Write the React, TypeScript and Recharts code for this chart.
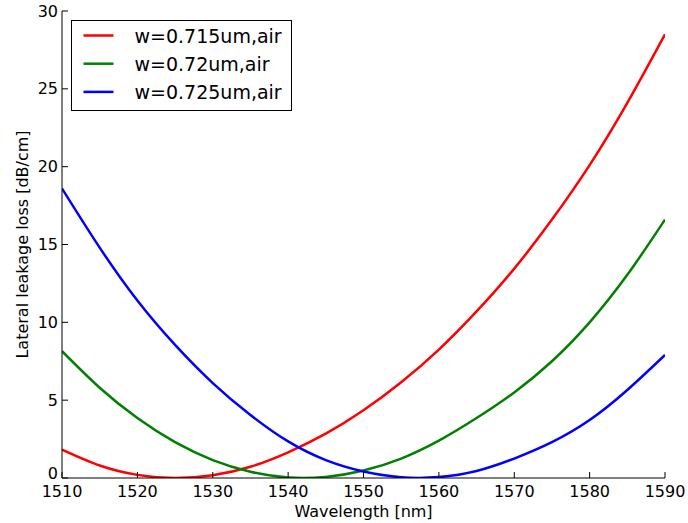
import React from 'react';
import { LineChart, Line, XAxis, YAxis, Legend } from 'recharts';

// wavelength samples [nm]
const wavelengths = [
  1510, 1515, 1520, 1525, 1530, 1535, 1540, 1545, 1550,
  1555, 1560, 1565, 1570, 1575, 1580, 1585, 1590,
];

// lateral leakage loss [dB/cm]
const loss715 = [
  1.82, 0.8, 0.2, 0.0, 0.18, 0.72, 1.65, 2.85, 4.35,
  6.15, 8.25, 10.7, 13.45, 16.6, 20.1, 24.1, 28.5,
];
const loss720 = [
  8.15, 5.8, 3.85, 2.3, 1.15, 0.4, 0.03, 0.07, 0.48,
  1.25, 2.4, 3.85, 5.5, 7.5, 10.0, 13.05, 16.6,
];
const loss725 = [
  18.6, 14.8, 11.4, 8.55, 6.1, 4.05, 2.35, 1.15, 0.42,
  0.05, 0.06, 0.45, 1.25, 2.3, 3.72, 5.65, 7.9,
];

const seriesNames = ['w=0.715um,air', 'w=0.72um,air', 'w=0.725um,air'];
const xTicks = [1510, 1520, 1530, 1540, 1550, 1560, 1570, 1580, 1590];
const yTicks = [0, 5, 10, 15, 20, 25, 30];

const FONT = '"DejaVu Sans", "Bitstream Vera Sans", sans-serif';
const COLORS = ['#ff0000', '#008000', '#0000ff'];
const TICK_LEN = 6;

const data = wavelengths.map((w, i) => ({
  w,
  a: loss715[i],
  b: loss720[i],
  c: loss725[i],
}));

// matplotlib-style ticks: pointing into the plot
const BottomTick = ({ x, y, payload }: any) => (
  <g>
    <line x1={x} x2={x} y1={y} y2={y - TICK_LEN} stroke="#000" />
    <text x={x} y={y + 19} textAnchor="middle" fontSize={16} fontFamily={FONT} fill="#000">
      {payload.value}
    </text>
  </g>
);

const TopTick = ({ x, y }: any) => (
  <line x1={x} x2={x} y1={y} y2={y + TICK_LEN} stroke="#000" />
);

const LeftTick = ({ x, y, payload }: any) => (
  <g>
    <line x1={x} x2={x + TICK_LEN} y1={y} y2={y} stroke="#000" />
    <text
      x={x - 4}
      y={payload.value === 0 ? y + 1 : y + 5.5}
      textAnchor="end"
      fontSize={16}
      fontFamily={FONT}
      fill="#000"
    >
      {payload.value}
    </text>
  </g>
);

const RightTick = ({ x, y }: any) => (
  <line x1={x} x2={x - TICK_LEN} y1={y} y2={y} stroke="#000" />
);

const XTitle = ({ viewBox }: any) => (
  <text
    x={viewBox.x + viewBox.width / 2}
    y={viewBox.y + 39}
    textAnchor="middle"
    fontSize={16}
    fontFamily={FONT}
    fill="#000"
  >
    Wavelength [nm]
  </text>
);

const YTitle = ({ viewBox }: any) => {
  const cx = viewBox.x + 28;
  const cy = viewBox.y + viewBox.height / 2;
  return (
    <text
      x={cx}
      y={cy}
      transform={`rotate(-90 ${cx} ${cy})`}
      textAnchor="middle"
      fontSize={16}
      fontFamily={FONT}
      fill="#000"
    >
      Lateral leakage loss [dB/cm]
    </text>
  );
};

const LegendBox = ({ payload }: any) => {
  const items = [...(payload || [])].sort(
    (p: any, q: any) => seriesNames.indexOf(p.value) - seriesNames.indexOf(q.value)
  );
  return (
    <svg width={222} height={92} style={{ display: 'block' }}>
      <rect x={0.5} y={0.5} width={220} height={90} fill="#fff" stroke="#000" />
      {items.map((p: any, i: number) => {
        const ry = 15.5 + i * 28.2;
        return (
          <g key={p.value}>
            <line x1={12.5} x2={42.5} y1={ry} y2={ry} stroke={p.color} strokeWidth={2.5} />
            <text x={63.5} y={ry + 7} fontSize={19} fontFamily={FONT} fill="#000">
              {p.value}
            </text>
          </g>
        );
      })}
    </svg>
  );
};

export default function App() {
  return (
    <div style={{ position: 'absolute', left: 0, top: 0, width: 688, height: 523, background: '#fff' }}>
      <LineChart
        width={688}
        height={523}
        data={data}
        margin={{ top: 11, right: 23, bottom: 0, left: 0 }}
      >
        <XAxis
          dataKey="w"
          type="number"
          domain={[1510, 1590]}
          ticks={xTicks}
          interval={0}
          allowDataOverflow
          height={45}
          tickSize={0}
          tickMargin={0}
          tickLine={false}
          axisLine={{ stroke: '#000' }}
          tick={BottomTick}
          label={XTitle}
        />
        <XAxis
          xAxisId="top"
          orientation="top"
          type="number"
          domain={[1510, 1590]}
          ticks={xTicks}
          interval={0}
          allowDataOverflow
          height={0}
          tickSize={0}
          tickMargin={0}
          tickLine={false}
          axisLine={{ stroke: '#000' }}
          tick={TopTick}
        />
        <YAxis
          type="number"
          domain={[0, 30]}
          ticks={yTicks}
          interval={0}
          allowDataOverflow
          width={62}
          tickSize={0}
          tickMargin={0}
          tickLine={false}
          axisLine={{ stroke: '#000' }}
          tick={LeftTick}
          label={YTitle}
        />
        <YAxis
          yAxisId="right"
          orientation="right"
          type="number"
          domain={[0, 30]}
          ticks={yTicks}
          interval={0}
          allowDataOverflow
          width={0}
          tickSize={0}
          tickMargin={0}
          tickLine={false}
          axisLine={{ stroke: '#000' }}
          tick={RightTick}
        />
        <Legend
          content={LegendBox}
          layout="horizontal"
          align="center"
          verticalAlign="middle"
          wrapperStyle={{ left: 71, top: 20, width: 222, height: 92 }}
        />
        {[loss715, loss720, loss725].map((_, i) => (
          <Line
            key={seriesNames[i]}
            type="natural"
            dataKey={['a', 'b', 'c'][i]}
            name={seriesNames[i]}
            stroke={COLORS[i]}
            strokeWidth={2.5}
            dot={false}
            isAnimationActive={false}
          />
        ))}
      </LineChart>
    </div>
  );
}
